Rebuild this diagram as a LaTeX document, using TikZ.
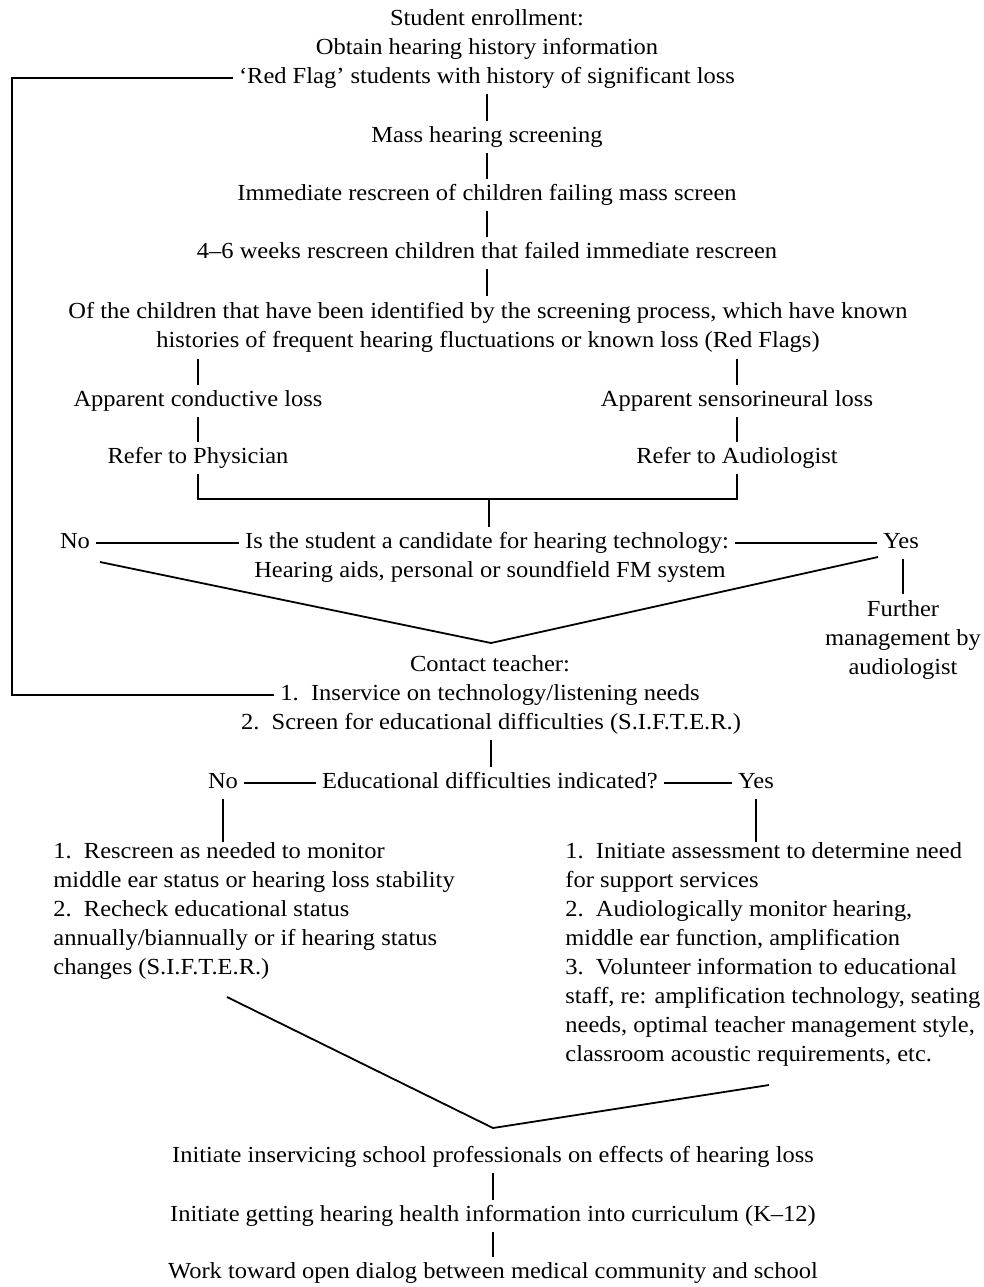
\documentclass[tikz,border=0pt]{standalone}
\usepackage{fontspec}
\setmainfont{Liberation Serif}[FakeStretch=1.065]
\begin{document}
\begin{tikzpicture}[x=0.5pt,y=-0.5pt,
  every node/.style={font=\fontsize{11.5}{14.5}\selectfont, inner sep=3pt},
  t/.style={text height=7.6pt, text depth=2pt},
  blk/.style={align=center},
  lblk/.style={align=left, anchor=north west, inner sep=0pt},
  ln/.style={line width=0.9pt}]
\useasboundingbox (0,0) rectangle (984,1287);
% top chain
\node[blk] (enroll) at (487,34.5) {Student enrollment:\\Obtain hearing history information};
\node[t] (rf) at (487,78) {‘Red Flag’ students with history of significant loss};
\node[t] (mass) at (487,137) {Mass hearing screening};
\node[t] (imm) at (487,195) {Immediate rescreen of children failing mass screen};
\node[t] (wk) at (487,253) {4–6 weeks rescreen children that failed immediate rescreen};
\node[blk] (ofc) at (488,327.5) {Of the children that have been identified by the screening process, which have known\\histories of frequent hearing fluctuations or known loss (Red Flags)};
\node[t] (cond) at (198,401) {Apparent conductive loss};
\node[t] (sens) at (737,401) {Apparent sensorineural loss};
\node[t] (phys) at (198,458) {Refer to Physician};
\node[t] (aud) at (737,458) {Refer to Audiologist};
\coordinate (bar) at (489,499);
\node[t] (q1) at (487,543) {Is the student a candidate for hearing technology:};
\node[t] (q2) at (490,572) {Hearing aids, personal or soundfield FM system};
\node[t] (no1) at (75,543) {No};
\node[t] (yes1) at (901,543) {Yes};
\node[blk] (fur) at (903,640) {Further\\management by\\audiologist};
\coordinate (vl) at (100,562);
\coordinate (vb) at (491,643);
\coordinate (vr) at (878,557);
\node[t] (ct) at (490,666) {Contact teacher:};
\node[t] (ins) at (490,695) {1.\ \ Inservice on technology/listening needs};
\node[t] (scr) at (491,724) {2.\ \ Screen for educational difficulties (S.I.F.T.E.R.)};
\coordinate (lp) at (12,400);
\node[t] (edu) at (490,783) {Educational difficulties indicated?};
\node[t] (no2) at (223,783) {No};
\node[t] (yes2) at (756,783) {Yes};
\node[lblk] (lb) at (53,842) {1.\ \ Rescreen as needed to monitor\\middle ear status or hearing loss stability\\2.\ \ Recheck educational status\\annually/biannually or if hearing status\\changes (S.I.F.T.E.R.)};
\node[lblk] (rb) at (565,842) {1.\ \ Initiate assessment to determine need\\for support services\\2.\ \ Audiologically monitor hearing,\\middle ear function, amplification\\3.\ \ Volunteer information to educational\\staff, re: amplification technology, seating\\needs, optimal teacher management style,\\classroom acoustic requirements, etc.};
\coordinate (vl2) at (227,997);
\coordinate (vb2) at (493,1128);
\coordinate (vr2) at (769,1085);
\node[t] (i1) at (493,1157) {Initiate inservicing school professionals on effects of hearing loss};
\node[t] (i2) at (493,1216) {Initiate getting hearing health information into curriculum (K–12)};
\node[t] (i3) at (493,1273) {Work toward open dialog between medical community and school};
% connectors
\draw[ln] (rf.south) -- (rf.south |- mass.north);
\draw[ln] (mass.south) -- (mass.south |- imm.north);
\draw[ln] (imm.south) -- (imm.south |- wk.north);
\draw[ln] (wk.south) -- (wk.south |- ofc.north);
\draw[ln] (ofc.south -| cond.north) -- (cond.north);
\draw[ln] (ofc.south -| sens.north) -- (sens.north);
\draw[ln] (cond.south) -- (phys.north);
\draw[ln] (sens.south) -- (aud.north);
\draw[ln] (phys.south) |- (bar) -| (aud.south);
\draw[ln] (bar) -- (bar |- q1.north);
\draw[ln] (no1.east) -- (q1.west);
\draw[ln] (q1.east) -- (yes1.west);
\draw[ln] (vl) -- (vb) -- (vr);
\draw[ln] (yes1.south -| fur.north) -- (fur.north);
\draw[ln] (rf.west) -- (rf.west -| lp) -- (ins.west -| lp) -- (ins.west);
\draw[ln] (scr.south) -- (scr.south |- edu.north);
\draw[ln] (no2.east) -- (edu.west);
\draw[ln] (edu.east) -- (yes2.west);
\draw[ln] (no2.south) -- (no2.south |- lb.north);
\draw[ln] (yes2.south) -- (yes2.south |- rb.north);
\draw[ln] (vl2) -- (vb2) -- (vr2);
\draw[ln] (i1.south) -- (i1.south |- i2.north);
\draw[ln] (i2.south) -- (i2.south |- i3.north);
\end{tikzpicture}
\end{document}
